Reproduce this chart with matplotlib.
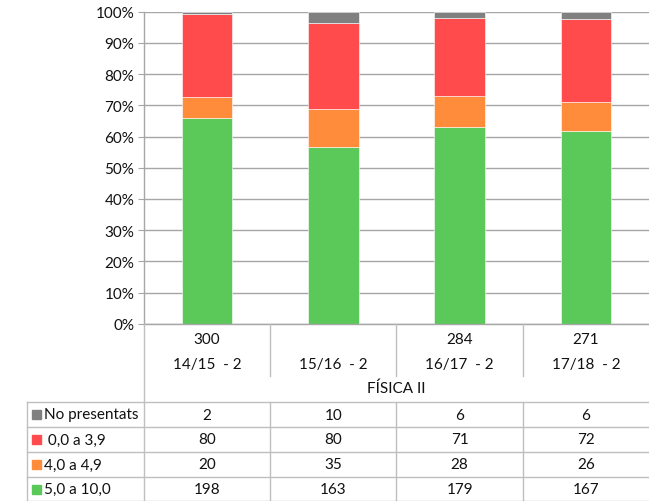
import matplotlib
matplotlib.use("Agg")
import matplotlib.pyplot as plt
from matplotlib.lines import Line2D
from matplotlib.patches import Rectangle
from matplotlib.ticker import PercentFormatter
import numpy as np

categories = ["14/15  - 2", "15/16  - 2", "16/17  - 2", "17/18  - 2"]
totals_labels = ["300", "", "284", "271"]
group_title = "FÍSICA II"
series_names = ["No presentats", " 0,0 a 3,9", "4,0 a 4,9", "5,0 a 10,0"]
no_presentats = [2, 10, 6, 6]
suspens = [80, 80, 71, 72]
aprox = [20, 35, 28, 26]
aprovat = [198, 163, 179, 167]
colors = ["#808080", "#FF4B4B", "#FF8C3A", "#5BC85A"]

plt.rcParams['font.family'] = ['Lato', 'DejaVu Sans']

W, H = 649, 502
fig = plt.figure(figsize=(W / 100, H / 100), dpi=100)

def fx(x):
    return x / W

def fy(y):
    return 1 - y / H

ax_left, ax_right, ax_top, ax_bot = 144, 649, 12.7, 324.7
ax = fig.add_axes([fx(ax_left), fy(ax_bot), fx(ax_right - ax_left), (ax_bot - ax_top) / H])

series = [aprovat, aprox, suspens, no_presentats]
ser_colors = [colors[3], colors[2], colors[1], colors[0]]
arr = np.array(series, dtype=float)
tot = arr.sum(axis=0)
frac = arr / tot
x = np.arange(len(categories))
bottom = np.zeros(len(categories))
for vals, c in zip(frac, ser_colors):
    ax.bar(x, vals, 0.4, bottom=bottom, color=c, edgecolor="#FFFFFF", linewidth=0.4, zorder=3)
    bottom += vals

ax.set_xlim(-0.5, len(categories) - 0.5)
ax.set_ylim(0, 1)
ax.set_yticks(np.linspace(0, 1, 11))
ax.yaxis.set_major_formatter(PercentFormatter(1.0, decimals=0))
ax.grid(axis='y', color="#A6A6A6", linewidth=1, zorder=0)
for s in ["top", "right", "bottom"]:
    ax.spines[s].set_visible(False)
ax.spines["left"].set_color("#A6A6A6")
ax.spines["left"].set_linewidth(1)
ax.tick_params(axis='y', length=4, color="#A6A6A6", labelsize=11, pad=3, labelcolor="#111111")
ax.set_xticks([])

line_c = "#BFBFBF"
cat_w = (ax_right - ax_left) / len(categories)
fig.add_artist(Line2D([fx(ax_left), fx(ax_right)], [fy(ax_bot), fy(ax_bot)], color="#A6A6A6", lw=1))
for i in range(1, len(categories)):
    xx = ax_left + i * cat_w
    fig.add_artist(Line2D([fx(xx), fx(xx)], [fy(ax_bot), fy(377)], color=line_c, lw=1))
    fig.add_artist(Line2D([fx(xx), fx(xx)], [fy(403), fy(502)], color=line_c, lw=1))
fig.add_artist(Line2D([fx(ax_left), fx(ax_left)], [fy(ax_bot), fy(502)], color=line_c, lw=1))
fig.add_artist(Line2D([fx(27), fx(27)], [fy(403), fy(502)], color=line_c, lw=1))
for yy in [403, 428, 453, 478, 501.5]:
    fig.add_artist(Line2D([fx(27), fx(ax_right)], [fy(yy), fy(yy)], color=line_c, lw=1))

fs = 11
for i, (cat, tl) in enumerate(zip(categories, totals_labels)):
    cx = ax_left + (i + 0.5) * cat_w
    fig.text(fx(cx), fy(340), tl, ha="center", va="center", fontsize=fs, color="#111111")
    fig.text(fx(cx), fy(365), cat, ha="center", va="center", fontsize=fs, color="#111111")
fig.text(fx(ax_left + 2 * cat_w), fy(389), group_title, ha="center", va="center", fontsize=fs, color="#111111")

table_rows = [no_presentats, suspens, aprox, aprovat]
row_centers = [415.5, 440.5, 465.5, 490]
for r, (name, vals, c, yc) in enumerate(zip(series_names, table_rows, colors, row_centers)):
    fig.add_artist(Rectangle((fx(32), fy(yc + 4.5)), 9 / W, 9 / H, color=c, transform=fig.transFigure))
    fig.text(fx(44), fy(yc), name, ha="left", va="center", fontsize=fs, color="#111111")
    for i, v in enumerate(vals):
        cx = ax_left + (i + 0.5) * cat_w
        fig.text(fx(cx), fy(yc), str(v), ha="center", va="center", fontsize=fs, color="#111111")

fig.savefig("out.png", dpi=100)
